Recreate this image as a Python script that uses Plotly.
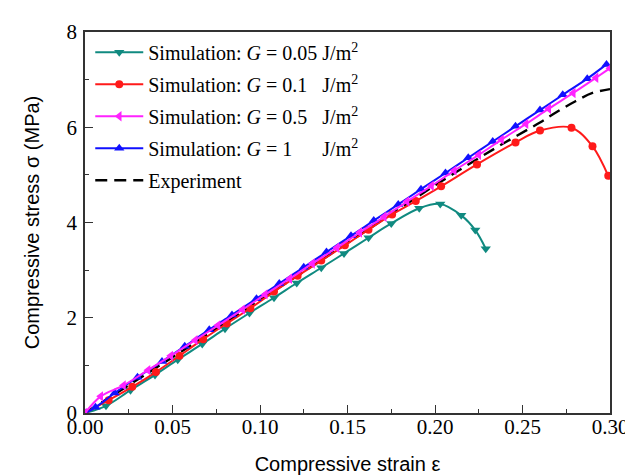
import plotly.graph_objects as go

# ---- data ----
teal_x = [0, 0.012, 0.026, 0.040, 0.053, 0.067, 0.080, 0.094, 0.108, 0.121, 0.135, 0.148,
          0.162, 0.175, 0.191, 0.203, 0.215, 0.223, 0.229]
teal_y = [0, 0.15, 0.48, 0.80, 1.12, 1.45, 1.77, 2.10, 2.42, 2.73, 3.05, 3.35,
          3.68, 3.98, 4.30, 4.39, 4.15, 3.84, 3.45]

red_x = [0, 0.0135, 0.027, 0.0405, 0.054, 0.0675, 0.081, 0.0945, 0.108, 0.1215, 0.135,
         0.1485, 0.162, 0.1755, 0.189, 0.2035, 0.224, 0.246, 0.260, 0.278, 0.290, 0.299]
red_y = [0, 0.27, 0.55, 0.86, 1.20, 1.55, 1.88, 2.20, 2.55, 2.88, 3.20,
         3.52, 3.85, 4.17, 4.45, 4.76, 5.22, 5.68, 5.93, 5.99, 5.60, 4.98]

mag_x = [0, 0.009, 0.022, 0.036, 0.049, 0.063, 0.076, 0.090, 0.103, 0.117, 0.130, 0.144,
         0.157, 0.171, 0.184, 0.198, 0.211, 0.225, 0.238, 0.252, 0.265, 0.279, 0.292, 0.300]
mag_y = [0, 0.35, 0.58, 0.90, 1.20, 1.53, 1.84, 2.17, 2.49, 2.82, 3.14, 3.47,
         3.79, 4.12, 4.44, 4.77, 5.09, 5.42, 5.74, 6.07, 6.39, 6.72, 7.04, 7.24]

blue_x = [0, 0.006, 0.017, 0.030, 0.044, 0.057, 0.071, 0.084, 0.098, 0.111, 0.125, 0.138,
          0.152, 0.165, 0.179, 0.192, 0.206, 0.219, 0.233, 0.246, 0.260, 0.273, 0.287, 0.298]
blue_y = [0, 0.12, 0.42, 0.75, 1.08, 1.40, 1.75, 2.06, 2.40, 2.72, 3.06, 3.38,
          3.72, 4.04, 4.38, 4.70, 5.04, 5.36, 5.70, 6.02, 6.36, 6.68, 7.02, 7.32]

exp_x = [0, 0.05, 0.10, 0.15, 0.20, 0.22, 0.24, 0.26, 0.27, 0.28, 0.29, 0.30]
exp_y = [0, 1.17, 2.37, 3.57, 4.78, 5.24, 5.68, 6.10, 6.33, 6.54, 6.72, 6.80]

x_ticks = [0.00, 0.05, 0.10, 0.15, 0.20, 0.25, 0.30]
x_tick_labels = ["0.00", "0.05", "0.10", "0.15", "0.20", "0.25", "0.30"]
y_ticks = [0, 2, 4, 6, 8]

names = [
    "Simulation: <i>G</i> = 0.05 J/m<sup>2</sup>",
    "Simulation: <i>G</i> = 0.1&nbsp;&nbsp; J/m<sup>2</sup>",
    "Simulation: <i>G</i> = 0.5&nbsp;&nbsp; J/m<sup>2</sup>",
    "Simulation: <i>G</i> = 1&nbsp;&nbsp;&nbsp;&nbsp;&nbsp; J/m<sup>2</sup>",
    "Experiment",
]

SERIF = "Liberation Serif, Times New Roman, serif"
SANS = "Liberation Sans, Arial, sans-serif"

fig = go.Figure()

fig.add_trace(go.Scatter(x=exp_x, y=exp_y, mode="lines", name=names[4], legendrank=5,
                         legendgroup="e",
                         line=dict(color="black", width=2.4, dash="12px,7px", shape="spline")))
fig.add_trace(go.Scatter(x=teal_x, y=teal_y, mode="lines+markers", name=names[0], legendrank=1,
                         legendgroup="a", line=dict(color="#108a80", width=2, shape="spline"),
                         marker=dict(symbol="triangle-down", size=9, color="#108a80")))
fig.add_trace(go.Scatter(x=red_x, y=red_y, mode="lines+markers", name=names[1], legendrank=2,
                         legendgroup="b", line=dict(color="#ff1a1a", width=2, shape="spline"),
                         marker=dict(symbol="circle", size=8, color="#ff1a1a")))
fig.add_trace(go.Scatter(x=blue_x, y=blue_y, mode="lines+markers", name=names[3], legendrank=4,
                         legendgroup="d", line=dict(color="#1010ff", width=2, shape="spline"),
                         marker=dict(symbol="triangle-up", size=9, color="#1010ff")))
fig.add_trace(go.Scatter(x=mag_x, y=mag_y, mode="lines+markers", name=names[2], legendrank=3,
                         legendgroup="c", line=dict(color="#ff22ff", width=2, shape="spline"),
                         marker=dict(symbol="triangle-left", size=9, color="#ff22ff")))

axis_common = dict(
    showline=True, linecolor="#333333", linewidth=1.5, mirror=True,
    ticks="inside", ticklen=8, tickwidth=1.3, tickcolor="#333333",
    showgrid=False, zeroline=False,
    tickfont=dict(family=SERIF, size=21, color="black"),
)

fig.update_layout(
    width=633, height=476,
    margin=dict(l=77, r=31, t=20, b=67),
    paper_bgcolor="white", plot_bgcolor="white",
    showlegend=True,
    legend=dict(x=0.01, y=0.998, xanchor="left", yanchor="top", bgcolor="rgba(0,0,0,0)",
                font=dict(family=SERIF, size=20, color="black"),
                tracegroupgap=3, itemwidth=48),
    xaxis=dict(axis_common, range=[0, 0.30], tickvals=x_ticks, ticktext=x_tick_labels,
               ticklabelstandoff=-6,
               minor=dict(ticks="inside", ticklen=4, dtick=0.025, tick0=0, tickcolor="#333333"),
               title=dict(text="Compressive strain ε", standoff=19,
                          font=dict(family=SANS, size=20, color="black"))),
    yaxis=dict(axis_common, range=[0, 8], tickvals=y_ticks, ticklabelstandoff=2,
               minor=dict(ticks="inside", ticklen=4, dtick=1, tick0=0, tickcolor="#333333"),
               title=dict(text="Compressive stress σ (MPa)", standoff=22,
                          font=dict(family=SANS, size=20, color="black"))),
)

fig.write_html("out.html")
